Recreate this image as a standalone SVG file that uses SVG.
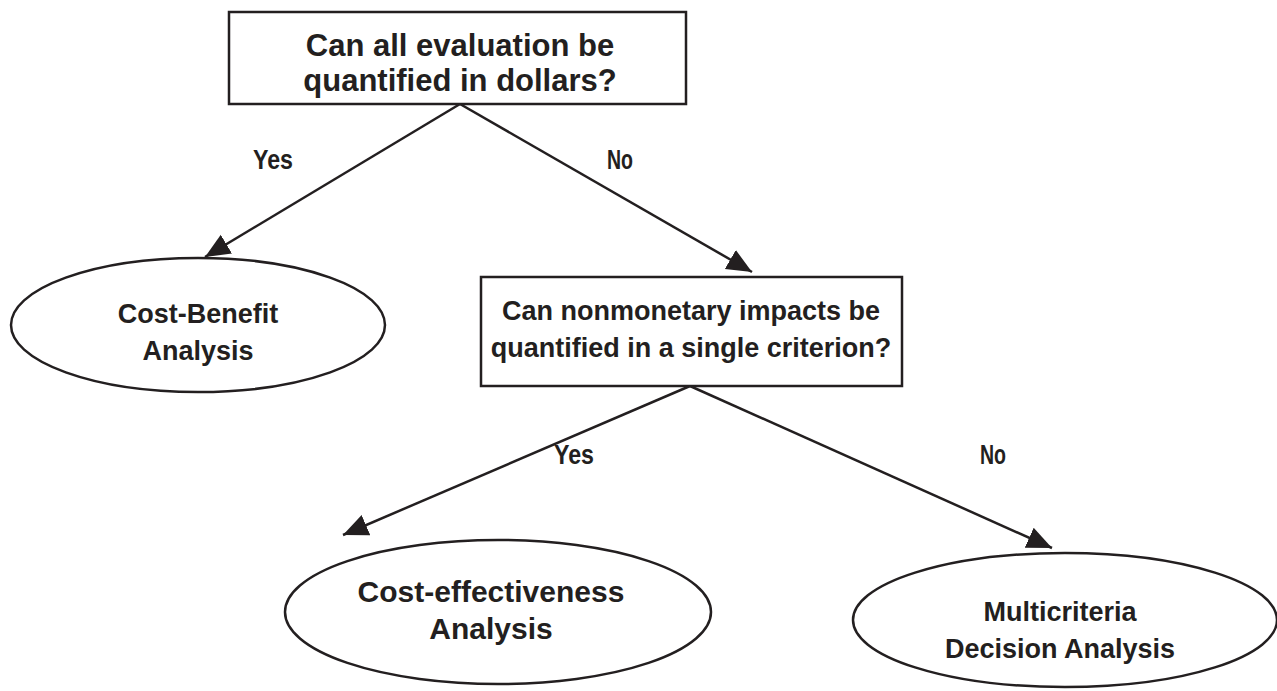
<svg xmlns="http://www.w3.org/2000/svg" width="1277" height="691" viewBox="0 0 1277 691">
<style>
.box{fill:#fff;stroke:#231f20;stroke-width:2.5}
.t{font-family:"Liberation Sans",Arial,sans-serif;font-weight:bold;font-size:27px;fill:#231f20;text-anchor:middle}
.big{font-size:31px}
.mid{font-size:30px}
.lbl{font-family:"Liberation Sans",Arial,sans-serif;font-weight:bold;font-size:27px;fill:#231f20;text-anchor:middle}
.edge{stroke:#231f20;stroke-width:2.5;fill:none;marker-end:url(#ah)}
</style>
<defs>
<marker id="ah" markerUnits="userSpaceOnUse" markerWidth="28" markerHeight="24" refX="25" refY="11" orient="auto">
<path d="M0,0 L25,11 L0,22 Z" fill="#231f20"/>
</marker>
</defs>
<rect width="1277" height="691" fill="#fff"/>
<g id="connectors">
<polyline class="edge" points="460,104 205,257"/>
<polyline class="edge" points="460,104 752,272"/>
<polyline class="edge" points="690,386 343,535"/>
<polyline class="edge" points="690,386 1052,548"/>
<text class="lbl" x="273" y="169" textLength="40" lengthAdjust="spacingAndGlyphs">Yes</text>
<text class="lbl" x="620" y="169" textLength="26" lengthAdjust="spacingAndGlyphs">No</text>
<text class="lbl" x="574" y="464" textLength="40" lengthAdjust="spacingAndGlyphs">Yes</text>
<text class="lbl" x="993" y="464" textLength="26" lengthAdjust="spacingAndGlyphs">No</text>
</g>
<g id="q1">
<rect class="box" x="229" y="12" width="457" height="92"/>
<text class="t big" x="460" y="56">Can all evaluation be</text>
<text class="t big" x="460" y="91">quantified in dollars?</text>
</g>
<g id="cba">
<ellipse class="box" cx="198" cy="325" rx="187" ry="67"/>
<text class="t" x="198" y="323">Cost-Benefit</text>
<text class="t" x="198" y="360">Analysis</text>
</g>
<g id="q2">
<rect class="box" x="481" y="277" width="421" height="109"/>
<text class="t" x="691" y="320">Can nonmonetary impacts be</text>
<text class="t" x="691" y="357">quantified in a single criterion?</text>
</g>
<g id="cea">
<ellipse class="box" cx="498" cy="612" rx="213" ry="72"/>
<text class="t mid" x="491" y="602">Cost-effectiveness</text>
<text class="t mid" x="491" y="639">Analysis</text>
</g>
<g id="mcda">
<ellipse class="box" cx="1065" cy="620" rx="212" ry="67"/>
<text class="t" x="1060" y="621">Multicriteria</text>
<text class="t" x="1060" y="658">Decision Analysis</text>
</g>
</svg>
